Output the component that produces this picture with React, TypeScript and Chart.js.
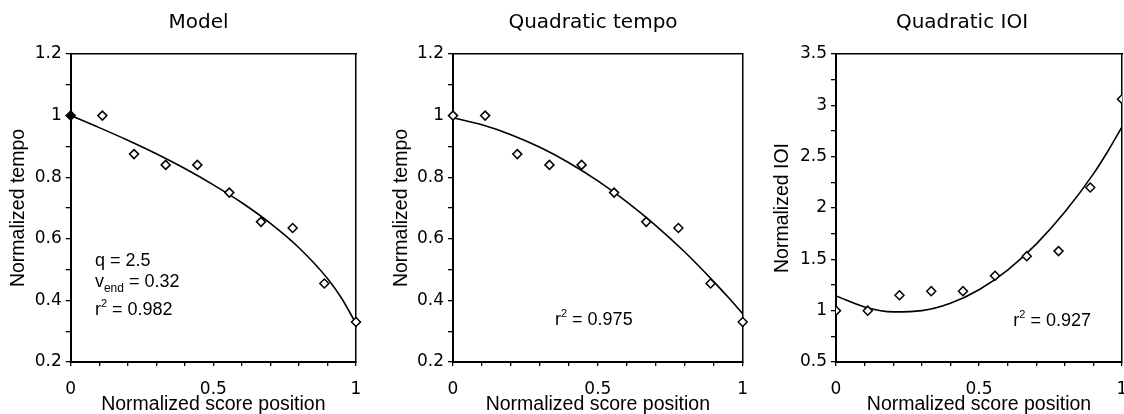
import React, { useEffect, useRef } from 'react';
import { Chart, registerables } from 'chart.js';

Chart.register(...registerables);

// ---- data ----
const scorePositions = [0, 0.111, 0.222, 0.333, 0.444, 0.556, 0.667, 0.778, 0.889, 1];
const tempoValues = [1.0, 1.0, 0.875, 0.84, 0.84, 0.75, 0.655, 0.635, 0.455, 0.33];
const ioiValues = [1.0, 1.0, 1.15, 1.19, 1.19, 1.34, 1.53, 1.58, 2.2, 3.06];

const curvePositions = [0, 0.1, 0.2, 0.3, 0.4, 0.5, 0.6, 0.7, 0.8, 0.9, 0.95, 1];
const modelCurve = [1.0, 0.961, 0.92, 0.876, 0.828, 0.775, 0.717, 0.65, 0.571, 0.471, 0.406, 0.325];
const quadTempoCurve = [0.993, 0.97, 0.938, 0.897, 0.847, 0.788, 0.72, 0.643, 0.557, 0.461, 0.41, 0.357];
const quadIoiCurve = [1.144, 1.036, 0.988, 1.0, 1.072, 1.204, 1.396, 1.648, 1.96, 2.332, 2.55, 2.79];

const xTickLabels = [0, 0.5, 1];
const tempoTickLabels = [0.2, 0.4, 0.6, 0.8, 1, 1.2];
const ioiTickLabels = [0.5, 1, 1.5, 2, 2.5, 3, 3.5];

const panelTitles = ['Model', 'Quadratic tempo', 'Quadratic IOI'];
const xAxisTitle = 'Normalized score position';
const yAxisTitles = ['Normalized tempo', 'Normalized tempo', 'Normalized IOI'];

const TICK_FONT = "'DejaVu Sans', sans-serif";
const TEXT_FONT = "'Liberation Sans', Arial, sans-serif";

type Part = { t: string; s?: 'sub' | 'sup' };
type Note = { x: number; y: number; parts: Part[] };

const notesPlugin = {
  id: 'notes',
  afterDraw(chart: any, _args: any, opts: any) {
    const notes: Note[] = opts.items || [];
    const ctx = chart.ctx;
    const xs = chart.scales.x;
    const ys = chart.scales.y;
    ctx.save();
    ctx.fillStyle = '#000';
    ctx.textBaseline = 'alphabetic';
    ctx.textAlign = 'left';
    for (const n of notes) {
      let px = xs.getPixelForValue(n.x);
      const py = ys.getPixelForValue(n.y);
      for (const p of n.parts) {
        let dy = 0;
        if (p.s === 'sub') {
          ctx.font = `12px ${TEXT_FONT}`;
          dy = 5;
        } else if (p.s === 'sup') {
          ctx.font = `11px ${TEXT_FONT}`;
          dy = -8;
        } else {
          ctx.font = `18px ${TEXT_FONT}`;
        }
        ctx.fillText(p.t, px, py + dy);
        px += ctx.measureText(p.t).width;
      }
    }
    ctx.restore();
  },
};

const fmt = (v: number) => String(Number(v.toFixed(2)));
const inSet = (v: number, set: number[]) => set.some((s) => Math.abs(s - v) < 1e-6);

type PanelCfg = {
  idx: number;
  points: number[];
  curve: number[];
  yMin: number;
  yMax: number;
  yStep: number;
  yLabels: number[];
  left: number;
  width: number;
  areaLeft: number;
  rightGap: number;
  yTitlePad: number;
  firstFilled: boolean;
  clipPoints: boolean;
  notes: Note[];
};

const panels: PanelCfg[] = [
  {
    idx: 0,
    points: tempoValues,
    curve: modelCurve,
    yMin: 0.2,
    yMax: 1.2,
    yStep: 0.1,
    yLabels: tempoTickLabels,
    left: 0,
    width: 397,
    areaLeft: 70.7,
    rightGap: 41,
    yTitlePad: 9,
    firstFilled: true,
    clipPoints: false,
    notes: [
      { x: 0.085, y: 0.512, parts: [{ t: 'q = 2.5' }] },
      { x: 0.085, y: 0.4445, parts: [{ t: 'v' }, { t: 'end', s: 'sub' }, { t: ' = 0.32' }] },
      { x: 0.085, y: 0.353, parts: [{ t: 'r' }, { t: '2', s: 'sup' }, { t: ' = 0.982' }] },
    ],
  },
  {
    idx: 1,
    points: tempoValues,
    curve: quadTempoCurve,
    yMin: 0.2,
    yMax: 1.2,
    yStep: 0.1,
    yLabels: tempoTickLabels,
    left: 380,
    width: 426,
    areaLeft: 73,
    rightGap: 63.3,
    yTitlePad: 11.5,
    firstFilled: false,
    clipPoints: false,
    notes: [{ x: 0.352, y: 0.32, parts: [{ t: 'r' }, { t: '2', s: 'sup' }, { t: ' = 0.975' }] }],
  },
  {
    idx: 2,
    points: ioiValues,
    curve: quadIoiCurve,
    yMin: 0.5,
    yMax: 3.5,
    yStep: 0.25,
    yLabels: ioiTickLabels,
    left: 760,
    width: 404,
    areaLeft: 76,
    rightGap: 42,
    yTitlePad: 13.2,
    firstFilled: false,
    clipPoints: true,
    notes: [{ x: 0.62, y: 0.846, parts: [{ t: 'r' }, { t: '2', s: 'sup' }, { t: ' = 0.927' }] }],
  },
];

function Panel({ cfg }: { cfg: PanelCfg }) {
  const ref = useRef<HTMLCanvasElement | null>(null);
  useEffect(() => {
    if (!ref.current) return;
    const pointData = scorePositions.map((x, i) => ({ x, y: cfg.points[i] }));
    const curveData = curvePositions.map((x, i) => ({ x, y: cfg.curve[i] }));
    const chart = new Chart(ref.current, {
      type: 'scatter',
      data: {
        datasets: [
          {
            data: pointData,
            showLine: false,
            pointStyle: 'rectRot',
            pointRadius: 4.5,
            pointBorderWidth: 1.5,
            pointBorderColor: '#000',
            pointBackgroundColor: pointData.map((_, i) => (cfg.firstFilled && i === 0 ? '#000' : '#fff')),
            clip: cfg.clipPoints ? 0 : false,
          } as any,
          {
            data: curveData,
            showLine: true,
            borderColor: '#000',
            borderWidth: 1.6,
            pointRadius: 0,
            cubicInterpolationMode: 'monotone',
            fill: false,
          } as any,
        ],
      },
      options: {
        animation: false,
        responsive: false,
        devicePixelRatio: 1,
        layout: { padding: 0 },
        plugins: {
          legend: { display: false },
          tooltip: { enabled: false },
          title: {
            display: true,
            text: panelTitles[cfg.idx],
            color: '#000',
            font: { family: TICK_FONT, size: 20, weight: 'normal', lineHeight: 1.2 },
            padding: { top: 11, bottom: 19 },
          },
          notes: { items: cfg.notes },
        } as any,
        scales: {
          x: {
            type: 'linear',
            position: 'bottom',
            min: 0,
            max: 1,
            ticks: {
              stepSize: 0.1,
              autoSkip: false,
              maxRotation: 0,
              minRotation: 0,
              padding: 13,
              color: '#000',
              font: { family: TICK_FONT, size: 17 },
              callback: (v: any) => (inSet(Number(v), xTickLabels) ? fmt(Number(v)) : ''),
            },
            grid: { display: true, drawOnChartArea: false, drawTicks: true, tickLength: 4, color: '#000', lineWidth: 1.3 },
            border: { display: true, color: '#000', width: 2 },
            title: {
              display: true,
              text: xAxisTitle,
              color: '#000',
              font: { family: TEXT_FONT, size: 19.5, lineHeight: 1 },
              padding: { top: 0, bottom: 0 },
            },
            afterFit: (s: any) => {
              s.height = 52;
            },
          },
          x2: {
            type: 'linear',
            position: 'top',
            display: true,
            ticks: { display: false },
            grid: { display: false },
            border: { display: true, color: '#000', width: 1.5 },
            afterFit: (s: any) => {
              s.height = 0;
            },
          },
          y: {
            type: 'linear',
            position: 'left',
            min: cfg.yMin,
            max: cfg.yMax,
            ticks: {
              stepSize: cfg.yStep,
              autoSkip: false,
              padding: 4,
              color: '#000',
              font: { family: TICK_FONT, size: 17 },
              callback: (v: any) => (inSet(Number(v), cfg.yLabels) ? fmt(Number(v)) : ''),
            },
            grid: { display: true, drawOnChartArea: false, drawTicks: true, tickLength: 5, color: '#000', lineWidth: 1.3 },
            border: { display: true, color: '#000', width: 2 },
            title: {
              display: true,
              text: yAxisTitles[cfg.idx],
              color: '#000',
              font: { family: TEXT_FONT, size: 19.5, lineHeight: 1 },
              padding: { top: cfg.yTitlePad, bottom: 0 },
            },
            afterFit: (s: any) => {
              s.width = cfg.areaLeft;
            },
          },
          y2: {
            type: 'linear',
            position: 'right',
            display: true,
            ticks: { display: false },
            grid: { display: false },
            border: { display: true, color: '#000', width: 1.5 },
            afterFit: (s: any) => {
              s.width = cfg.rightGap;
            },
          },
        } as any,
      },
      plugins: [notesPlugin as any],
    });
    return () => chart.destroy();
  }, [cfg]);

  return (
    <div style={{ position: 'absolute', left: cfg.left, top: 0, width: cfg.width, height: 414 }}>
      <canvas ref={ref} width={cfg.width} height={414} style={{ width: cfg.width, height: 414, display: 'block' }} />
    </div>
  );
}

export default function App() {
  return (
    <div
      style={{
        position: 'fixed',
        left: 0,
        top: 0,
        width: 1124,
        height: 414,
        overflow: 'hidden',
        background: '#fff',
      }}
    >
      {panels.map((p) => (
        <Panel key={p.idx} cfg={p} />
      ))}
    </div>
  );
}
